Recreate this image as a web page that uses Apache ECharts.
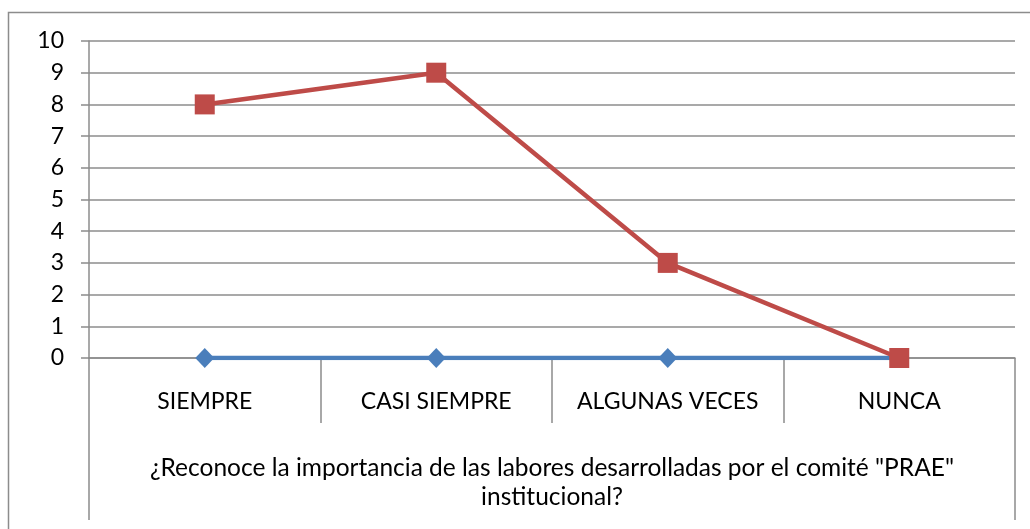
<!DOCTYPE html>
<html>
<head>
<meta charset="utf-8">
<script src="https://cdn.jsdelivr.net/npm/echarts@6/dist/echarts.min.js"></script>
<style>
  html, body { margin: 0; padding: 0; background: #fff; }
  #main { width: 1030px; height: 529px; }
</style>
</head>
<body>
<div id="main"></div>
<script>
  // datos
  var categories = ['SIEMPRE', 'CASI SIEMPRE', 'ALGUNAS VECES', 'NUNCA'];
  var groupLabel = ['¿Reconoce la importancia de las labores desarrolladas por el comité "PRAE"\ninstitucional?'];
  var serieAzul = [0, 0, 0, 0];
  var serieRoja = [8, 9, 3, 0];
  var yTicks = [0, 10, 1]; // min, max, interval

  var gris = '#8c8c8c';
  var fuente = 'Lato';

  var chart = echarts.init(document.getElementById('main'));
  chart.setOption({
    animation: false,
    textStyle: { fontFamily: fuente },
    graphic: [{
      type: 'rect',
      shape: { x: 8.5, y: 12.5, width: 1100, height: 600 },
      style: { fill: 'none', stroke: gris, lineWidth: 1.5 },
      silent: true
    }],
    grid: { left: 89, right: 15, top: 41, bottom: 171 },
    xAxis: [{
      type: 'category',
      data: categories,
      boundaryGap: true,
      axisLine: { show: true, lineStyle: { color: gris, width: 1.5 } },
      axisTick: { show: true, interval: 0, length: 65, lineStyle: { color: gris, width: 1.5 } },
      axisLabel: { color: '#000', fontSize: 23, interval: 0, margin: 32 },
      splitLine: { show: false }
    }, {
      type: 'category',
      data: groupLabel,
      position: 'bottom',
      offset: 65,
      boundaryGap: true,
      axisLine: { show: false },
      axisTick: { show: true, interval: 0, length: 97, lineStyle: { color: gris, width: 1.5 } },
      axisLabel: { color: '#000', fontSize: 24.5, interval: 0, lineHeight: 29, margin: 31 },
      splitLine: { show: false }
    }],
    yAxis: {
      type: 'value',
      min: yTicks[0],
      max: yTicks[1],
      interval: yTicks[2],
      axisLine: { show: true, lineStyle: { color: gris, width: 1.5 } },
      axisTick: { show: true, length: 8, lineStyle: { color: gris, width: 1.5 } },
      axisLabel: { color: '#000', fontSize: 23, margin: 25 },
      splitLine: { show: true, lineStyle: { color: gris, width: 1.5 } }
    },
    series: [{
      name: 'Serie 1',
      type: 'line',
      data: serieAzul,
      symbol: 'diamond',
      symbolSize: [19, 20],
      itemStyle: { color: '#4a7ebb' },
      lineStyle: { color: '#4a7ebb', width: 4.5 }
    }, {
      name: 'Serie 2',
      type: 'line',
      data: serieRoja,
      symbol: 'rect',
      symbolSize: 20,
      itemStyle: { color: '#be4b48' },
      lineStyle: { color: '#be4b48', width: 4.5 }
    }]
  });
</script>
</body>
</html>
